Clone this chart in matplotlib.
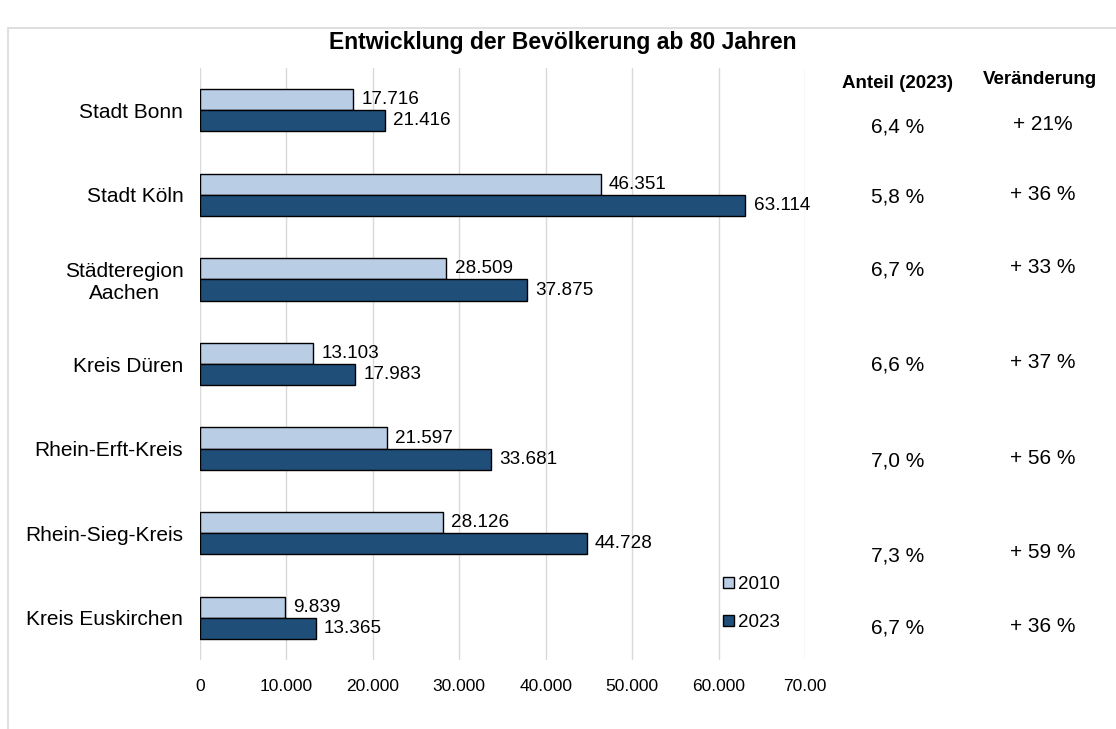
import matplotlib
matplotlib.use("Agg")
import matplotlib.pyplot as plt
from matplotlib.patches import Patch, Rectangle

plt.rcParams['font.family'] = ['Liberation Sans', 'DejaVu Sans']

# data
regions = ["Stadt Bonn", "Stadt Köln", "Städteregion\nAachen", "Kreis Düren",
           "Rhein-Erft-Kreis", "Rhein-Sieg-Kreis", "Kreis Euskirchen"]
pop_2010 = [17716, 46351, 28509, 13103, 21597, 28126, 9839]
pop_2023 = [21416, 63114, 37875, 17983, 33681, 44728, 13365]
anteil = ["6,4 %", "5,8 %", "6,7 %", "6,6 %", "7,0 %", "7,3 %", "6,7 %"]
veraenderung = ["+ 21%", "+ 36 %", "+ 33 %", "+ 37 %", "+ 56 %", "+ 59 %", "+ 36 %"]
x_ticks = [0, 10000, 20000, 30000, 40000, 50000, 60000, 70000]
x_ticklabels = ["0", "10.000", "20.000", "30.000", "40.000", "50.000", "60.000", "70.00"]

# row positions (pixels from top) of the text columns on the right
anteil_rows = [127, 197, 270, 365, 461, 556, 628]
veraend_rows = [124, 195, 268, 362, 459, 553, 626]

W, H = 1116, 729
light = "#B9CDE5"
dark = "#1F4E79"


def de(v):
    return f"{v:,}".replace(",", ".")


fig = plt.figure(figsize=(W / 100, H / 100), dpi=100)

# light frame around the chart area
fig.patches.append(Rectangle((8 / W, -0.05), 1.2, 1 - 28 / H + 0.05, transform=fig.transFigure,
                             fill=False, edgecolor="#D9D9D9", linewidth=1.2))

ax = fig.add_axes([200 / W, 1 - 660 / H, 605 / W, 592 / H])

y = list(range(len(regions)))
h = 0.25
ax.barh([i - h / 2 for i in y], pop_2010, height=h, color=light, edgecolor="black",
        linewidth=1, label="2010", zorder=3)
ax.barh([i + h / 2 for i in y], pop_2023, height=h, color=dark, edgecolor="black",
        linewidth=1, label="2023", zorder=3)

for i in y:
    ax.annotate(de(pop_2010[i]), (pop_2010[i], i - h / 2), xytext=(6, 0),
                textcoords="offset points", va="center", ha="left", fontsize=13.6)
    ax.annotate(de(pop_2023[i]), (pop_2023[i], i + h / 2), xytext=(6, 0),
                textcoords="offset points", va="center", ha="left", fontsize=13.6)

ax.set_ylim(len(regions) - 0.5, -0.5)
ax.set_xlim(0, 70000)
ax.set_yticks(y)
ax.set_yticklabels(regions, fontsize=15, multialignment="center")
ax.set_xticks(x_ticks)
ax.set_xticklabels(x_ticklabels, fontsize=12.5)
ax.tick_params(axis="both", length=0)
ax.tick_params(axis="y", pad=12)
ax.tick_params(axis="x", pad=14)
ax.grid(axis="x", color="#D9D9D9", linewidth=1, zorder=0)
for s in ax.spines.values():
    s.set_visible(False)

ax.legend(handles=[Patch(facecolor=light, edgecolor="black", label="2010"),
                   Patch(facecolor=dark, edgecolor="black", label="2023")],
          loc="upper left", bbox_to_anchor=(714 / W, 1 - 567 / H), bbox_transform=fig.transFigure,
          frameon=False, fontsize=13.5, handlelength=0.55, handleheight=0.55,
          handletextpad=0.25, labelspacing=1.1, borderpad=0)

fig.text(563 / W, 1 - 42 / H, "Entwicklung der Bevölkerung ab 80 Jahren",
         ha="center", va="center", fontsize=16.5, fontweight="bold")
fig.text(898 / W, 1 - 84 / H, "Anteil (2023)", ha="center", va="center",
         fontsize=13.5, fontweight="bold")
fig.text(1040 / W, 1 - 79 / H, "Veränderung", ha="center", va="center",
         fontsize=13.5, fontweight="bold")
for a, r in zip(anteil, anteil_rows):
    fig.text(898 / W, 1 - r / H, a, ha="center", va="center", fontsize=15)
for v, r in zip(veraenderung, veraend_rows):
    fig.text(1043 / W, 1 - r / H, v, ha="center", va="center", fontsize=15)

fig.savefig("out.png", dpi=100)
